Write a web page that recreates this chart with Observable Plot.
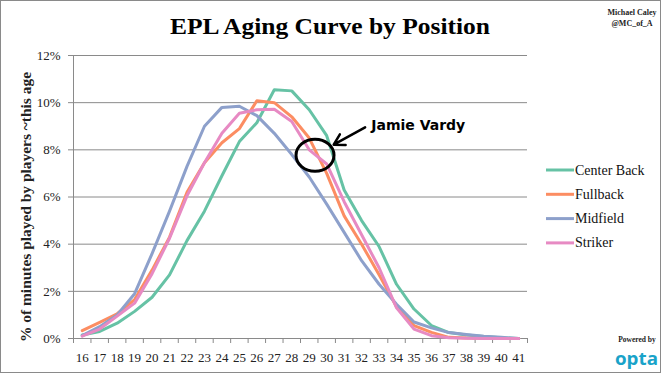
<!DOCTYPE html>
<html><head><meta charset="utf-8">
<script src="https://cdn.jsdelivr.net/npm/d3@7"></script>
<script src="https://cdn.jsdelivr.net/npm/@observablehq/plot@0.6"></script>
<style>body{margin:0;background:#fff}svg{display:block}</style>
</head><body><div id="chart"></div>
<script>
const ages = [16,17,18,19,20,21,22,23,24,25,26,27,28,29,30,31,32,33,34,35,36,37,38,39,40,41];
const positions = ["Center Back","Fullback","Midfield","Striker"];
const colors = ["#66c2a5","#fc8d62","#8da0cb","#e78ac3"];
const centerBack = [0.15,0.3,0.65,1.15,1.75,2.7,4.15,5.4,6.9,8.35,9.15,10.55,10.5,9.7,8.6,6.3,5.0,3.9,2.3,1.25,0.55,0.25,0.15,0.08,0.03,0];
const fullback   = [0.33,0.68,1.05,1.65,2.9,4.3,6.2,7.45,8.3,8.9,10.08,10.0,9.4,8.5,7.0,5.2,4.0,2.7,1.35,0.55,0.26,0.05,0.02,0.01,0,0];
const midfield   = [0.12,0.5,1.0,1.9,3.6,5.4,7.3,9.0,9.8,9.85,9.45,8.7,7.8,6.85,5.7,4.5,3.3,2.3,1.45,0.7,0.45,0.25,0.17,0.1,0.05,0];
const striker    = [0.1,0.4,0.95,1.5,2.75,4.25,6.05,7.45,8.7,9.55,9.7,9.72,9.2,8.0,7.4,5.8,4.4,3.0,1.3,0.4,0.12,0.03,0.01,0,0,0];
const yTicks = [0,2,4,6,8,10,12];
const title = "EPL Aging Curve by Position";
const yLabel = "% of minutes played by players ~this age";
const credits = ["Michael Caley","@MC_of_A"];
const circleAt = [{age:29.36, value:7.75}];
const arrowSeg = [{x1:32.2, y1:8.95, x2:30.4, y2:8.22}];
const labelAt = [{age:32.55, value:9.05, text:"Jamie Vardy"}];

const series = [centerBack, fullback, midfield, striker];
const data = positions.flatMap((p,i)=>ages.map((a,j)=>({age:a, pos:p, value:series[i][j]})));
const edges = ages.map(a=>a-0.5).concat([ages[ages.length-1]+0.5]);
const grey = "#8a8a8a";
const serif = "'Liberation Serif', 'Times New Roman', serif";

const chart = Plot.plot({
  width:661, height:373,
  marginTop:55, marginRight:134, marginBottom:35, marginLeft:73,
  style:{fontFamily:serif, fontSize:"13px", color:"#222", background:"#fff"},
  x:{type:"linear", domain:[edges[0], edges[edges.length-1]]},
  y:{domain:[0,12]},
  color:{domain:positions, range:colors},
  marks:[
    Plot.gridY(yTicks.slice(1), {stroke:grey, strokeOpacity:1}),
    Plot.ruleX([edges[0]], {stroke:grey}),
    Plot.ruleY([0], {stroke:grey}),
    Plot.axisY(yTicks, {tickSize:5, tickPadding:8, tickFormat:d=>d+"%", stroke:grey, fill:"#222", label:null}),
    Plot.axisX(edges, {tickSize:5, tickFormat:()=>"", stroke:grey, label:null}),
    Plot.axisX(ages, {tickSize:0, tickPadding:14, fill:"#222", label:null}),
    Plot.lineY(data, {x:"age", y:"value", stroke:"pos", strokeWidth:3, z:"pos"}),
    Plot.arrow(arrowSeg, {x1:"x1", y1:"y1", x2:"x2", y2:"y2", stroke:"#000", strokeWidth:2.5, headLength:11}),
    Plot.text(labelAt, {x:"age", y:"value", text:"text", textAnchor:"start", fontFamily:"'DejaVu Sans', sans-serif", fontSize:14, fontWeight:"bold", fill:"#000"})
  ]
});

const svg = d3.select(chart);
const sx = chart.scale("x"), sy = chart.scale("y");
svg.selectAll("ellipse.vardy").data(circleAt).join("ellipse")
  .attr("cx", d=>sx.apply(d.age)).attr("cy", d=>sy.apply(d.value))
  .attr("rx", 19).attr("ry", 16)
  .attr("fill","none").attr("stroke","#000").attr("stroke-width",3);

// title
svg.append("text").text(title)
  .attr("x",330).attr("y",34).attr("text-anchor","middle")
  .attr("textLength",320).attr("lengthAdjust","spacingAndGlyphs")
  .style("font-family",serif).style("font-weight","bold").style("font-size","24px").attr("fill","#000");
// credits
credits.forEach((c,i)=>svg.append("text").text(c)
  .attr("x",632).attr("y",15+i*11).attr("text-anchor","middle")
  .style("font-family",serif).style("font-weight","bold").style("font-size","8px").attr("fill","#222"));
// y label
svg.append("text").text(yLabel)
  .attr("transform","translate(31,207) rotate(-90)").attr("text-anchor","middle")
  .attr("textLength",270).attr("lengthAdjust","spacingAndGlyphs")
  .style("font-family",serif).style("font-weight","bold").style("font-size","14px").attr("fill","#222");
// legend
const color = chart.scale("color");
const lg = svg.append("g");
positions.forEach((p,i)=>{
  const y = 170 + i*24.3;
  lg.append("line").attr("x1",546).attr("x2",574).attr("y1",y).attr("y2",y)
    .attr("stroke",color.apply(p)).attr("stroke-width",3);
  lg.append("text").text(p).attr("x",575).attr("y",y+4.5).attr("text-anchor","start")
    .style("font-family",serif).style("font-size","14px").attr("fill","#111");
});
// powered by opta
svg.append("text").text("Powered by").attr("x",637).attr("y",342).attr("text-anchor","middle")
  .style("font-family",serif).style("font-weight","bold").style("font-size","7.5px").attr("fill","#222");
svg.append("text").text("opta").attr("x",636.5).attr("y",365).attr("text-anchor","middle")
  .attr("textLength",43).attr("lengthAdjust","spacingAndGlyphs")
  .style("font-family","'Open Sans', sans-serif").style("font-weight","bold").style("font-size","17px").attr("fill","#19a3c9");
// border
svg.append("rect").attr("x",0.5).attr("y",0.5).attr("width",660).attr("height",372)
  .attr("fill","none").attr("stroke",grey).attr("stroke-width",1);

document.getElementById("chart").appendChild(chart);
</script>
</body></html>
